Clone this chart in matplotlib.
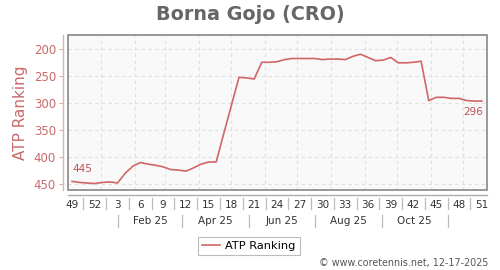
import matplotlib
matplotlib.use('Agg')
import matplotlib.pyplot as plt
from matplotlib.patches import Rectangle
from matplotlib.lines import Line2D
import numpy as np

# ---- data ----
week_labels = ['49', '52', '3', '6', '9', '12', '15', '18', '21', '24', '27',
               '30', '33', '36', '39', '42', '45', '48', '51']
month_labels = ['Feb 25', 'Apr 25', 'Jun 25', 'Aug 25', 'Oct 25']
rank = [445, 447, 448, 449, 447, 446, 448, 430, 417, 410, 413, 415, 418, 423,
        424, 426, 420, 413, 409, 409, 356, 304, 252, 253, 255, 224, 224, 223,
        219, 217, 217, 217, 217, 219, 218, 218, 219, 213, 209, 215, 221, 220,
        215, 225, 225, 224, 222, 295, 289, 289, 291, 291, 295, 296, 296]
yticks = [200, 250, 300, 350, 400, 450]

# ---- layout constants ----
month_grid = [3.86, 8.29, 12.29, 16.71, 21.0, 25.43, 29.71, 34.14, 38.57,
              42.86, 47.29, 51.57]
month_seps = [6.1, 14.45, 23.3, 32.0, 40.8, 49.5]

line_color = '#d06666'
pink = '#c86a6a'

fig = plt.figure(figsize=(5, 2.7), dpi=100)
ax = fig.add_axes([0.136, 0.2963, 0.838, 0.574])
ax.set_facecolor('#f9f9f9')

x = np.arange(len(rank))
ln, = ax.plot(x, rank, color=line_color, lw=1.2, label='ATP Ranking', zorder=3)

ax.set_xlim(-0.53, 54.68)
ax.set_ylim(461, 173.4)

# grid
for g in month_grid:
    ax.axvline(g, color='#e0e0e0', lw=0.8, ls=(0, (3, 3)), zorder=1)
for yv in yticks:
    ax.axhline(yv, color='#e0e0e0', lw=0.8, ls=(0, (3, 3)), zorder=1)

# frame box
ax.add_patch(Rectangle((0, 0), 1, 1, transform=ax.transAxes, fill=False,
                       edgecolor='#888888', lw=1.2, zorder=4, clip_on=False))
for s in ['top', 'right']:
    ax.spines[s].set_visible(False)
ax.spines['left'].set_position(('outward', 3.6))
ax.spines['bottom'].set_position(('outward', 3.3))
ax.spines['left'].set_color('#e2b0b0')
ax.spines['bottom'].set_color('#aaaaaa')
ax.spines['left'].set_linewidth(1.0)
ax.spines['bottom'].set_linewidth(1.0)

# y axis
ax.set_yticks(yticks)
ax.set_yticklabels([str(v) for v in yticks])
ax.tick_params(axis='y', colors='#e0a8a8', labelcolor=pink, labelsize=8.5,
               length=3, width=0.8, pad=2)
ax.set_ylabel('ATP Ranking', color=pink, fontsize=11, labelpad=4)

# x axis
ax.set_xticks(np.arange(0, len(rank), 3))
ax.set_xticklabels(week_labels)
ax.tick_params(axis='x', length=0, labelsize=7.5, labelcolor='#333333', pad=4.0)

xt = ax.get_xaxis_transform()
for k in range(len(week_labels) - 1):
    sx = 1.5 + 3 * k
    ax.add_line(Line2D([sx, sx], [-0.052, -0.123], transform=xt,
                       color='#bbbbbb', lw=0.9, clip_on=False))
for s in month_seps:
    ax.add_line(Line2D([s, s], [-0.161, -0.239], transform=xt,
                       color='#bbbbbb', lw=0.9, clip_on=False))
for i, lab in enumerate(month_labels):
    cx = (month_seps[i] + month_seps[i + 1]) / 2
    ax.text(cx, -0.203, lab, transform=xt, ha='center', va='center',
            fontsize=7.5, color='#333333')

# annotations of first/last values
ax.annotate(str(rank[0]), (x[0], rank[0]), xytext=(0, 5),
            textcoords='offset points', ha='left', va='bottom',
            fontsize=7.5, color='#c05050')
ax.annotate(str(rank[-1]), (x[-1], rank[-1]), xytext=(1, -4),
            textcoords='offset points', ha='right', va='top',
            fontsize=7.5, color='#c05050')

# title
fig.text(0.5, 0.948, 'Borna Gojo (CRO)', ha='center', va='center',
         fontsize=13.8, fontweight='bold', color='#666666')

# legend
leg = fig.legend(handles=[ln], loc='center', bbox_to_anchor=(0.498, 0.089),
                 frameon=True, fancybox=False, edgecolor='#aaaaaa',
                 fontsize=8.2, handlelength=1.5, handletextpad=0.5,
                 borderpad=0.35)
leg.get_frame().set_linewidth(0.8)

fig.text(0.976, 0.026, '\u00a9 www.coretennis.net, 12-17-2025', ha='right',
         va='center', fontsize=6.9, color='#555555')

fig.savefig('out.png', dpi=100)
